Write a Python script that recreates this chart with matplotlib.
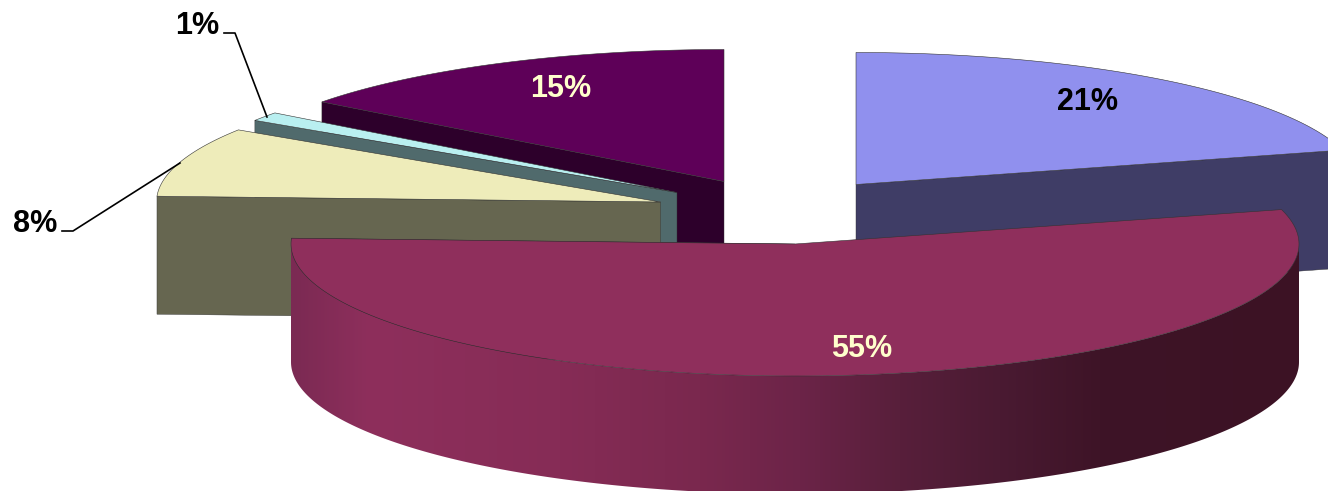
import numpy as np
import matplotlib
matplotlib.use('Agg')
import matplotlib.pyplot as plt
from matplotlib.patches import Polygon

matplotlib.rcParams['font.family'] = ['Liberation Sans', 'DejaVu Sans']

# slice shares, clockwise from 12 o'clock
values = [20.8, 54.9, 8.5, 1.1, 14.7]
labels = ['21%', '55%', '8%', '1%', '15%']

# layout, in pixels of the 1328x491 picture
A, B = 504.0, 132.0
DEPTH = 118.0
apex = [(856, 184.5), (795, 244), (660.5, 202), (677, 192.5), (724, 181.5)]
top_col = ['#9090ee', '#8f2f5c', '#eeecba', '#b9eff0', '#5e0058']
side_col = ['#3f3d66', '#3f1226', '#666650', '#506a6c', '#2d002b']
label_xy = [(1087, 102), (862, 349), (35, 224), (197, 26), (561, 89)]
label_col = ['black', '#ffffcc', 'black', 'black', '#ffffcc']
order = [0, 4, 3, 2, 1]

# rim shading of the big slice, by x
rim_x = [292, 370, 560, 700, 800, 900, 1000, 1100, 1300]
rim_r = [0x7b, 0x8e, 0x86, 0x7a, 0x6c, 0x58, 0x4a, 0x3e, 0x3c]
rim_g = [0x2a, 0x2f, 0x2c, 0x28, 0x24, 0x1f, 0x1a, 0x14, 0x12]
rim_b = [0x53, 0x5c, 0x56, 0x4e, 0x48, 0x3b, 0x32, 0x27, 0x24]

fig = plt.figure(figsize=(13.28, 4.91), dpi=100, facecolor='w')
ax = fig.add_axes([0, 0, 1, 1])


def point(c, deg):
    t = np.radians(deg)
    return c[0] + A * np.sin(t), c[1] - B * np.cos(t)


edges = np.cumsum([0] + values) / np.sum(values) * 360.0

z = 1
for i in order:
    a0, a1 = edges[i], edges[i + 1]
    c = apex[i]
    mid = (a0 + a1) / 2.0
    # the cut face that looks towards the viewer
    face = a0 if mid > 180 else a1
    fx, fy = point(c, face)
    ax.add_patch(Polygon([c, (fx, fy), (fx, fy + DEPTH), (c[0], c[1] + DEPTH)],
                         fc=side_col[i], ec='#333333', lw=0.3, zorder=z))
    z += 1

    # outer rim, only the front part shows
    lo, hi = max(a0, 90.0), min(a1, 270.0)
    if hi > lo:
        arc = np.linspace(lo, hi, 300)
        x, y = point(c, arc)
        pts = np.r_[np.c_[x, y], np.c_[x[::-1], y[::-1] + DEPTH]]
        rim = Polygon(pts, fc='none', ec='none', zorder=z)
        ax.add_patch(rim)
        xs = np.arange(x.min() - 2, x.max() + 3)
        grad = np.c_[np.interp(xs, rim_x, rim_r),
                     np.interp(xs, rim_x, rim_g),
                     np.interp(xs, rim_x, rim_b)] / 255.0
        im = ax.imshow(grad[np.newaxis, :, :], aspect='auto', zorder=z,
                       extent=(xs[0], xs[-1], y.max() + DEPTH + 2, y.min() - 2))
        im.set_clip_path(rim)
        z += 1

    arc = np.linspace(a0, a1, 200)
    x, y = point(c, arc)
    pts = np.r_[[c], np.c_[x, y]]
    ax.add_patch(Polygon(pts, fc=top_col[i], ec='#333333', lw=0.4, zorder=z))
    z += 1

# leader lines for the small slices
ax.plot([62, 73, 180], [231, 231, 163], color='black', lw=1.2, zorder=30)
ax.plot([224, 235, 267], [33, 33, 117], color='black', lw=1.2, zorder=30)

for i in range(len(labels)):
    ax.text(label_xy[i][0], label_xy[i][1], labels[i], color=label_col[i],
            fontsize=22, fontweight='bold', ha='center', va='center', zorder=40)

ax.set_xlim(0, 1328)
ax.set_ylim(491, 0)
ax.axis('off')

plt.savefig('out.png', dpi=100)
